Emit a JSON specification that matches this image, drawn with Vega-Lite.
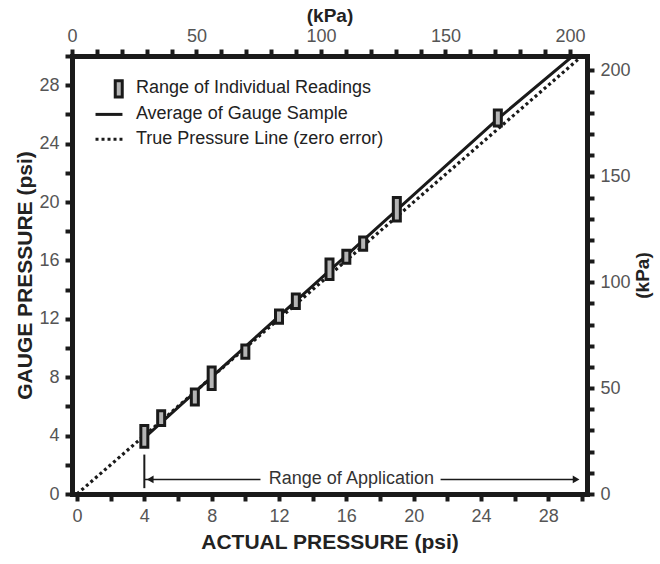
{
  "$schema": "https://vega.github.io/schema/vega-lite/v6.json",
  "width": 515,
  "height": 438,
  "autosize": "none",
  "padding": {"left": 72, "top": 56, "right": 73, "bottom": 70},
  "background": "white",
  "config": {
    "view": {"stroke": null},
    "axis": {
      "grid": false,
      "domainColor": "#1a1a1a",
      "domainWidth": 5,
      "domainCap": "square",
      "tickColor": "#1a1a1a",
      "tickWidth": 4,
      "tickSize": 7,
      "labelFont": "Liberation Sans",
      "labelFontSize": 18,
      "labelColor": "#555555",
      "labelPadding": 6,
      "labelOverlap": false,
      "labelFlush": false,
      "titleFont": "Liberation Sans",
      "titleFontWeight": "bold",
      "titleColor": "#222222"
    }
  },
  "resolve": {"scale": {"x": "independent", "y": "independent"}},
  "layer": [
    {
      "encoding": {
        "x": {
          "field": "x",
          "type": "quantitative",
          "scale": {"domain": [0, 30], "nice": false},
          "axis": {
            "orient": "bottom",
            "values": [0, 2, 4, 6, 8, 10, 12, 14, 16, 18, 20, 22, 24, 26, 28, 30],
            "labelExpr": "datum.value % 4 === 0 ? datum.label : ''",
            "title": "ACTUAL PRESSURE (psi)",
            "titleFontSize": 21,
            "titlePadding": 6
          }
        },
        "y": {
          "field": "y",
          "type": "quantitative",
          "scale": {"domain": [0, 30], "nice": false},
          "axis": {
            "orient": "left",
            "values": [0, 2, 4, 6, 8, 10, 12, 14, 16, 18, 20, 22, 24, 26, 28, 30],
            "labelExpr": "datum.value % 4 === 0 ? datum.label : ''",
            "title": "GAUGE PRESSURE (psi)",
            "titleFontSize": 21,
            "titlePadding": 3
          }
        }
      },
      "layer": [
        {
          "data": {"values": [{"x": 0, "y": 0}, {"x": 30, "y": 30}]},
          "mark": {"type": "line", "color": "#1a1a1a", "strokeWidth": 3.2, "strokeDash": [3, 3], "clip": true},
          "encoding": {}
        },
        {
          "data": {"values": [{"x": 4, "y": 3.85}, {"x": 25, "y": 25.7}, {"x": 29.45, "y": 30}]},
          "mark": {"type": "line", "color": "#1a1a1a", "strokeWidth": 3, "clip": true},
          "encoding": {}
        },
        {
          "data": {"values": [
            {"x": 4, "y": 3.2, "y2": 4.7},
            {"x": 5, "y": 4.7, "y2": 5.7},
            {"x": 7, "y": 6.1, "y2": 7.2},
            {"x": 8, "y": 7.15, "y2": 8.7},
            {"x": 10, "y": 9.3, "y2": 10.2},
            {"x": 12, "y": 11.7, "y2": 12.6},
            {"x": 13, "y": 12.7, "y2": 13.7},
            {"x": 15, "y": 14.7, "y2": 16.1},
            {"x": 16, "y": 15.8, "y2": 16.7},
            {"x": 17, "y": 16.7, "y2": 17.6},
            {"x": 19, "y": 18.7, "y2": 20.3},
            {"x": 25, "y": 25.2, "y2": 26.3}
          ]},
          "mark": {"type": "bar", "size": 7, "fill": "#b5b5b5", "stroke": "#1a1a1a", "strokeWidth": 3},
          "encoding": {"y2": {"field": "y2"}}
        },
        {
          "data": {"values": [{"x": 2.48, "y": 27.2, "y2": 28.3}]},
          "mark": {"type": "bar", "size": 7, "fill": "#b5b5b5", "stroke": "#1a1a1a", "strokeWidth": 3},
          "encoding": {"y2": {"field": "y2"}}
        },
        {
          "data": {"values": [{"x": 1.1, "x2": 2.7, "y": 26.0}]},
          "mark": {"type": "rule", "color": "#1a1a1a", "strokeWidth": 3},
          "encoding": {"x2": {"field": "x2"}}
        },
        {
          "data": {"values": [{"x": 1.1, "x2": 2.7, "y": 24.3}]},
          "mark": {"type": "rule", "color": "#1a1a1a", "strokeWidth": 3, "strokeDash": [3, 3]},
          "encoding": {"x2": {"field": "x2"}}
        },
        {
          "data": {"values": [
            {"x": 3.5, "y": 27.8, "label": "Range of Individual Readings"},
            {"x": 3.5, "y": 26.0, "label": "Average of Gauge Sample"},
            {"x": 3.5, "y": 24.3, "label": "True Pressure Line (zero error)"}
          ]},
          "mark": {"type": "text", "align": "left", "baseline": "middle", "font": "Liberation Sans", "fontSize": 18, "color": "#222222"},
          "encoding": {"text": {"field": "label"}}
        },
        {
          "data": {"values": [{"x": 4, "y": 0.4, "y2": 2.7}]},
          "mark": {"type": "rule", "color": "#1a1a1a", "strokeWidth": 2},
          "encoding": {"y2": {"field": "y2"}}
        },
        {
          "data": {"values": [{"x": 4, "x2": 10.9, "y": 1.0}, {"x": 21.6, "x2": 29.6, "y": 1.0}]},
          "mark": {"type": "rule", "color": "#1a1a1a", "strokeWidth": 1.5},
          "encoding": {"x2": {"field": "x2"}}
        },
        {
          "data": {"values": [{"x": 4.35, "y": 1.0}]},
          "mark": {"type": "point", "shape": "triangle-left", "filled": true, "color": "#1a1a1a", "size": 60, "opacity": 1},
          "encoding": {}
        },
        {
          "data": {"values": [{"x": 29.65, "y": 1.0}]},
          "mark": {"type": "point", "shape": "triangle-right", "filled": true, "color": "#1a1a1a", "size": 60, "opacity": 1},
          "encoding": {}
        },
        {
          "data": {"values": [{"x": 16.3, "y": 1.0, "label": "Range of Application"}]},
          "mark": {"type": "text", "align": "center", "baseline": "middle", "font": "Liberation Sans", "fontSize": 18, "color": "#333333"},
          "encoding": {"text": {"field": "label"}}
        }
      ]
    },
    {
      "data": {"values": [{"kpa": 0}, {"kpa": 206.84}]},
      "mark": {"type": "point", "opacity": 0},
      "encoding": {
        "x": {
          "field": "kpa",
          "type": "quantitative",
          "scale": {"domain": [0, 206.84], "nice": false},
          "axis": {
            "orient": "top",
            "values": [0, 10, 20, 30, 40, 50, 60, 70, 80, 90, 100, 110, 120, 130, 140, 150, 160, 170, 180, 190, 200],
            "labelExpr": "datum.value % 50 === 0 ? datum.label : ''",
            "labelPadding": 4,
            "title": "(kPa)",
            "titleFontSize": 19,
            "titlePadding": 2
          }
        },
        "y": {
          "field": "kpa",
          "type": "quantitative",
          "scale": {"domain": [0, 206.84], "nice": false},
          "axis": {
            "orient": "right",
            "values": [0, 10, 20, 30, 40, 50, 60, 70, 80, 90, 100, 110, 120, 130, 140, 150, 160, 170, 180, 190, 200],
            "labelExpr": "datum.value % 50 === 0 ? datum.label : ''",
            "title": "(kPa)",
            "titleFontSize": 19,
            "titleAngle": 270,
            "titlePadding": 22
          }
        }
      }
    }
  ]
}
